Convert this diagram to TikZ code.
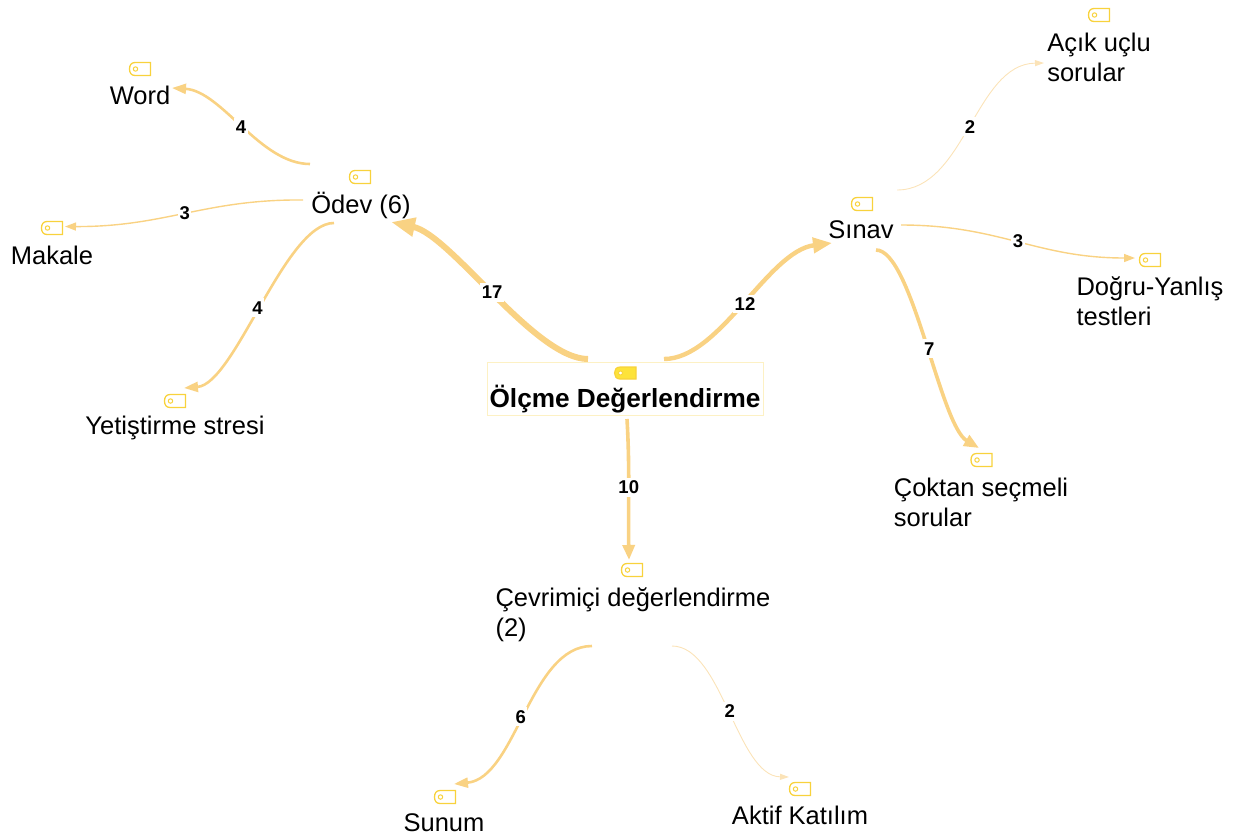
\documentclass[tikz,border=0pt]{standalone}
\usepackage{fontspec}
\setmainfont{Liberation Sans}
\usetikzlibrary{arrows.meta}
\definecolor{edgec}{HTML}{F9D283}
\definecolor{edgepale}{HTML}{FBE3B8}
\definecolor{tagc}{HTML}{F8D23C}
\definecolor{tagfill}{HTML}{FDE33A}
\definecolor{rootb}{HTML}{FDF1C4}
\tikzset{
  x=1pt,y=-1pt,
  topic/.style={inner sep=0pt,outer sep=0pt,align=left,text=black,font=\fontsize{25.5}{30}\selectfont},
  roottopic/.style={draw=rootb,line width=0.8pt,inner sep=0pt,outer sep=0pt,minimum width=276pt,minimum height=53pt,text=black},
  lab/.style={fill=white,inner xsep=1.5pt,inner ysep=3pt,text=black,font=\fontsize{18.5}{18.5}\selectfont\bfseries,pos=.5},
  e1/.style={draw=edgepale,line width=0.9pt,-{Triangle[length=9pt,width=6pt]}},
  e2/.style={draw=edgec,line width=1.4pt,-{Triangle[length=11pt,width=8pt]}},
  e3/.style={draw=edgec,line width=2.6pt,-{Triangle[length=14pt,width=10pt]}},
  e4/.style={draw=edgec,line width=3.6pt,-{Triangle[length=15pt,width=12pt]}},
  e5/.style={draw=edgec,line width=4.4pt,-{Triangle[length=19pt,width=15pt]}},
  e6/.style={draw=edgec,line width=6pt,-{Triangle[length=24pt,width=18pt]}},
}
\newcommand{\tagicon}[2]{%
  \draw[tagc,line width=1.3pt]
    (#1+10.5,#2-6.5) -- (#1-5,#2-6.5) .. controls (#1-9,#2-6.5) and (#1-10.5,#2-3.5) .. (#1-10.5,#2)
    .. controls (#1-10.5,#2+3.5) and (#1-9,#2+6.5) .. (#1-5,#2+6.5) -- (#1+10.5,#2+6.5) -- cycle;
  \draw[tagc,line width=1pt] (#1-4.5,#2) circle (2.2);
}
\begin{document}
\begin{tikzpicture}
\useasboundingbox (0,0) rectangle (1233,839);
% nodes
\node[roottopic,font=\fontsize{26.2}{30}\selectfont\bfseries,text height=45pt,text depth=8pt] (root) at (625,388.5) {Ölçme Değerlendirme};
\node[topic] (odev) at (361,205) {Ödev (6)};
\node[topic] (word) at (140,95) {Word};
\node[topic] (makale) at (52,255) {Makale};
\node[topic] (yetis) at (175,428) {Yetiştirme stresi};
\node[topic] (sinav) at (861,230) {Sınav};
\node[topic] (acik) at (1099,57) {Açık uçlu\\sorular};
\node[topic] (dogru) at (1150,301) {Doğru-Yanlış\\testleri};
\node[topic] (coktan) at (981,502) {Çoktan seçmeli\\sorular};
\node[topic] (cevrim) at (633,615) {Çevrimiçi değerlendirme\\(2)};
\node[topic] (sunum) at (444,823) {Sunum};
\node[topic] (aktif) at (800,815) {Aktif Katılım};
% tags
\draw[tagc,line width=1.2pt,fill=tagfill] (636,367) -- (620,367) .. controls (616,367) and (614.5,370) .. (614.5,373) .. controls (614.5,376) and (616,379) .. (620,379) -- (636,379) -- cycle;
\draw[tagc,fill=white,line width=0.9pt] (620.5,373) circle (2);
\tagicon{360}{177}\tagicon{140}{69}\tagicon{52}{228}\tagicon{175}{401}
\tagicon{862}{204}\tagicon{1099}{15}\tagicon{1150}{260}\tagicon{981.5}{460}
\tagicon{632}{570}\tagicon{445}{797}\tagicon{800}{789}
% connectors
\draw[e6] ([shift={(-37,-29.5)}]root.center) .. controls (535,359) and (451,235) .. ([shift={(30,17)}]odev.center) node[lab,pos=.5,yshift=3pt] (l17) {17};
\draw[e5] ([shift={(39,-29.5)}]root.center) .. controls (720,359) and (768,251) .. ([shift={(-29,13)}]sinav.center) node[lab] (l12) {12};
\draw[e4] ([shift={(2,30.5)}]root.center) .. controls (630,470) and (628,510) .. ([shift={(-4,-55)}]cevrim.center) node[lab,pos=.48] (l10) {10};
\draw[e3] ([shift={(-51,-41)}]odev.center) .. controls (260,164) and (222,91) .. ([shift={(32,-7)}]word.center) node[lab] (l4a) {4};
\draw[e2] ([shift={(-58,-5)}]odev.center) .. controls (205,199) and (165,227) .. ([shift={(13,-28.5)}]makale.center) node[lab] (l3a) {3};
\draw[e3] ([shift={(-27,18)}]odev.center) .. controls (285,223) and (235,384) .. ([shift={(9,-40)}]yetis.center) node[lab,pos=.515] (l4b) {4};
\draw[e1] ([shift={(36,-40)}]sinav.center) .. controls (965,190) and (975,64) .. ([shift={(-55,6)}]acik.center) node[lab] (l2a) {2};
\draw[e2] ([shift={(40,-5)}]sinav.center) .. controls (1000,225) and (1036,258) .. ([shift={(-15,-43)}]dogru.center) node[lab] (l3b) {3};
\draw[e4] ([shift={(15,20)}]sinav.center) .. controls (912,250) and (940,425) .. ([shift={(-2,-54)}]coktan.center) node[lab,pos=.53] (l7) {7};
\draw[e3] ([shift={(-41,31)}]cevrim.center) .. controls (530,646) and (516,778) .. ([shift={(10,-39)}]sunum.center) node[lab,pos=.52] (l6) {6};
\draw[e1] ([shift={(39,31)}]cevrim.center) .. controls (722,646) and (737,776) .. ([shift={(-11,-38)}]aktif.center) node[lab] (l2b) {2};
\end{tikzpicture}
\end{document}
